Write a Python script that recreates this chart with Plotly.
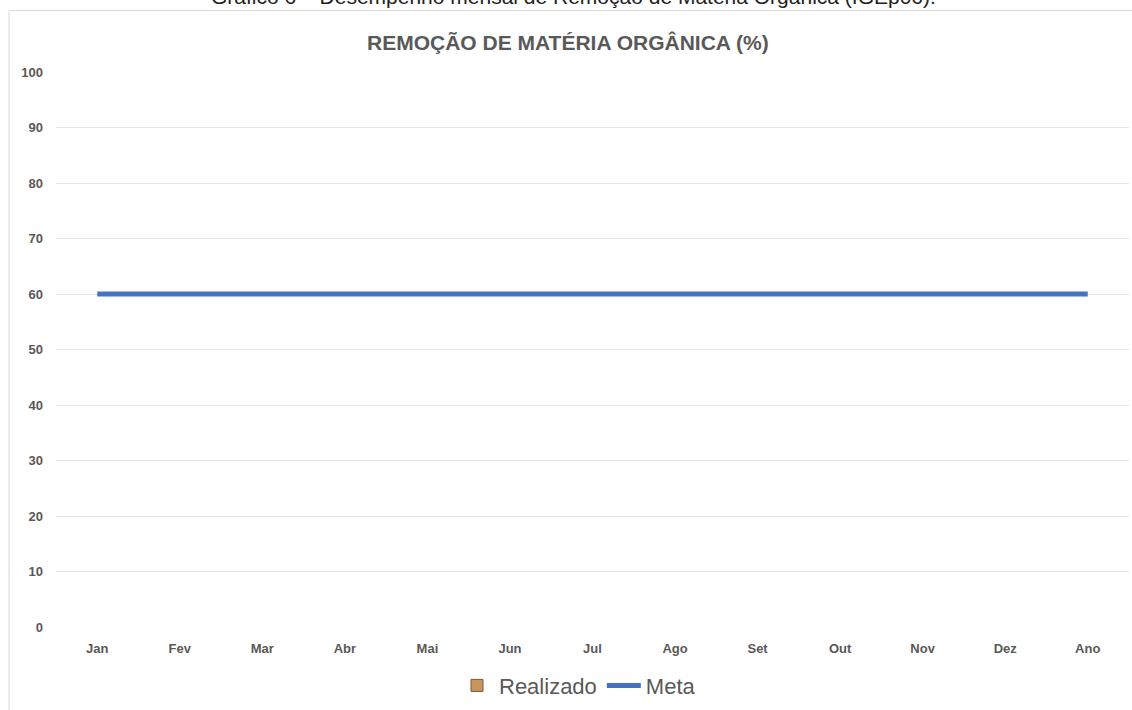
import plotly.graph_objects as go

categories = ["Jan", "Fev", "Mar", "Abr", "Mai", "Jun", "Jul", "Ago", "Set", "Out", "Nov", "Dez", "Ano"]
realizado = [None] * 13
meta = [60, 60, 60, 60, 60, 60, 60, 60, 60, 60, 60, 60, 60]
y_ticks = [0, 10, 20, 30, 40, 50, 60, 70, 80, 90, 100]

W, H = 1132, 710
L, R, T, B = 56, 1129, 72, 631

def px_x(p):
    return (p - L) / (R - L)

def px_y(p):
    return (B - p) / (B - T)

sans = "Liberation Sans, Arial"
gray = "#595959"

fig = go.Figure()
fig.add_trace(go.Bar(x=categories, y=realizado, name="Realizado",
                     marker=dict(color="#C8955E", line=dict(color="#7A5A38", width=1))))
fig.add_trace(go.Scatter(x=categories, y=meta, name="Meta", mode="lines",
                         line=dict(color="#4472C4", width=5)))

fig.update_layout(
    width=W, height=H,
    margin=dict(l=L, r=W - R, t=T, b=H - B),
    paper_bgcolor="white", plot_bgcolor="white",
    showlegend=True,
    legend=dict(orientation="h", x=px_x(578), xanchor="center", y=px_y(690), yanchor="middle",
                font=dict(family=sans, size=22, color=gray),
                itemwidth=34, traceorder="normal"),
    xaxis=dict(type="category", range=[-0.5, 12.5], showgrid=False, showline=False,
               zeroline=False, ticks="", ticklabelstandoff=12,
               tickfont=dict(family=sans, size=13, color=gray, weight="bold")),
    yaxis=dict(range=[0, 100], tickvals=y_ticks, showgrid=True, gridcolor="#E6E6E6",
               gridwidth=1, zeroline=False, showline=False, ticks="", ticklabelstandoff=12,
               tickfont=dict(family=sans, size=13, color=gray, weight="bold")),
)

fig.add_annotation(text="<b>REMOÇÃO DE MATÉRIA ORGÂNICA (%)</b>", xref="paper", yref="paper",
                   x=px_x(568), y=px_y(42), xanchor="center", yanchor="middle", showarrow=False,
                   font=dict(family=sans, size=21, color=gray))

fig.add_annotation(text="Gráfico 6 – Desempenho mensal de Remoção de Matéria Orgânica (IGEp06).",
                   xref="paper", yref="paper", x=px_x(573), y=px_y(-4), xanchor="center",
                   yanchor="middle", showarrow=False,
                   font=dict(family=sans, size=21, color="#222222"))

fig.add_shape(type="rect", xref="paper", yref="paper",
              x0=px_x(9), x1=px_x(1140), y0=px_y(720), y1=px_y(10),
              line=dict(color="#D9D9D9", width=1), fillcolor="rgba(0,0,0,0)", layer="below")

fig.write_html("out.html", config={"displayModeBar": False},
               post_script="document.body.style.margin='0';document.body.style.overflow='hidden';")
